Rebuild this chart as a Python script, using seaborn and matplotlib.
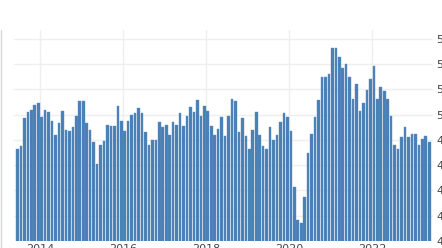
import matplotlib
matplotlib.use('Agg')
import matplotlib.pyplot as plt
from matplotlib.lines import Line2D
import seaborn as sns
import pandas as pd
import numpy as np

# monthly index readings, Jul 2013 - Jun 2023
months = pd.date_range('2013-07-01', periods=120, freq='MS').strftime('%Y-%m')
values = [
    47.25, 47.5, 49.7, 50.2, 50.4, 50.75, 50.9, 49.8, 50.4, 50.2, 49.5, 48.4,
    49.3, 50.3, 48.8, 48.7, 49.0, 49.9, 51.1, 51.1, 49.3, 48.8,
    47.85, 46.1, 47.6, 47.95, 49.2, 49.1, 49.1, 50.65, 49.5, 48.7, 49.5,
    50.0, 50.1, 50.5, 50.1, 48.6, 47.6, 48.0, 48.0, 49.4, 49.0, 49.2,
    48.4, 49.4, 49.2, 50.1, 49.1, 49.9, 50.6, 50.2, 51.15, 49.9, 50.65,
    50.25, 49.1, 48.4, 48.9, 49.8, 48.3, 49.9, 51.25, 51.05, 48.6, 49.7,
    48.3, 47.25, 48.8, 50.2, 48.4, 47.5, 47.3, 49.0, 48.0, 48.4, 49.4,
    50.1, 49.8, 48.7, 44.3, 41.7, 41.4, 43.5, 47.0, 48.5, 49.8, 51.15,
    52.95, 52.95, 53.2, 55.3, 55.3, 54.6, 53.7, 54.0, 53.0, 51.2, 52.45,
    50.3, 50.95, 51.95, 52.85, 53.85, 51.2, 52.15, 51.85, 51.25, 49.9,
    47.6, 47.3, 48.2, 49.0, 48.2, 48.5, 48.5, 47.6, 48.1, 48.35, 47.85,
]
year_labels = ['2014', '2016', '2018', '2020', '2022']
y_ticks = [40, 42, 44, 46, 48, 50, 52, 54, 56]

df = pd.DataFrame({'month': months, 'value': values})

sns.set_style('white')
fig = plt.figure(figsize=(4.42, 2.48), dpi=100)
ax = fig.add_axes([14 / 442, 7 / 248, 418.7 / 442, 211 / 248])

sns.barplot(data=df, x='month', y='value', color='#4a7fb6', saturation=1,
            width=0.75, edgecolor='#5d8fc4', linewidth=0.3, ax=ax)

ax.set_ylim(40, 56.7)
ax.set_xlim(-1.0, len(values))

# year gridlines sit at January of each labelled year
year_pos = [list(months).index(y + '-01') + 0.5 for y in year_labels]
ax.set_xticks(year_pos)
ax.set_xticklabels(year_labels)
ax.set_yticks(y_ticks)
ax.yaxis.tick_right()

ax.grid(True, color='#efefef', linewidth=1)
ax.set_axisbelow(True)
ax.tick_params(axis='both', length=0, labelsize=8, colors='#444444')
ax.tick_params(axis='x', pad=2.5)
ax.tick_params(axis='y', pad=2.5)
ax.set_xlabel('')
ax.set_ylabel('')
for s in ax.spines.values():
    s.set_visible(False)

fig.add_artist(Line2D([0.5 / 442, 0.5 / 442], [0, 218 / 248],
                      transform=fig.transFigure, color='#d8d8d8', linewidth=1))

fig.savefig('out.png', dpi=100)
